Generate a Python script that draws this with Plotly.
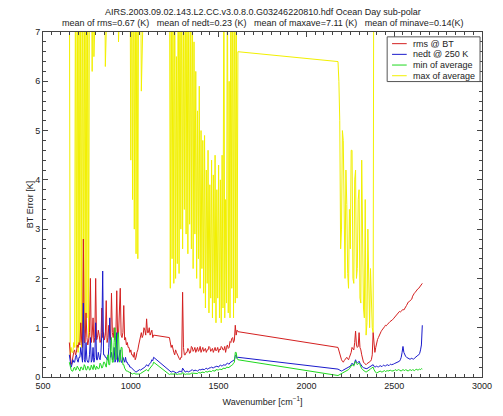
import plotly.graph_objects as go

# AIRS channel grid (cm^-1), three detector bands sampled every 5 cm^-1
band1_wn = list(range(650, 1131, 5))
band2_wn = list(range(1220, 1611, 5))
band3_wn = list(range(2180, 2661, 5))

# rms @ BT (K)
rms_b1 = [0.70, 0.45, 0.25, 0.30, 0.45, 0.50, 0.55, 0.45, 0.50, 0.65,
          0.60, 0.70, 0.65, 1.10, 0.75, 0.60, 2.80, 0.70, 0.70, 1.30,
          0.80, 0.65, 0.75, 0.90, 2.00, 0.70, 0.85, 1.20, 0.70, 0.80,
          2.00, 0.75, 0.80, 0.95, 0.85, 0.70, 0.75, 1.40, 0.80, 0.90,
          0.75, 0.85, 1.55, 0.70, 0.80, 1.05, 0.85, 0.75, 1.70, 0.90,
          0.80, 1.00, 0.75, 0.85, 1.75, 0.80, 0.85, 1.20, 1.80, 0.85,
          0.80, 0.90, 1.45, 0.75, 0.80, 0.65, 0.70, 0.60, 0.60, 0.50,
          0.55, 0.45, 0.45, 0.40, 0.50, 0.35, 0.40, 0.50, 0.55, 0.65,
          0.75, 0.85, 0.90, 0.80, 0.85, 1.00, 0.95, 0.85, 1.18, 0.90,
          0.90, 1.00, 0.85, 0.90, 0.95, 0.80, 0.85]
rms_b2 = [0.80, 0.70, 0.60, 0.65, 0.55, 0.50, 0.45, 0.55, 0.50, 0.45,
          0.40, 0.38, 0.35, 0.40, 0.40, 1.72, 0.60, 0.45, 0.45, 0.50,
          0.50, 0.58, 0.55, 0.48, 0.50, 0.62, 0.60, 0.52, 0.55, 0.60,
          0.50, 0.55, 0.60, 0.52, 0.55, 0.62, 0.50, 0.55, 0.60, 0.52,
          0.55, 0.58, 0.50, 0.55, 0.55, 0.62, 0.60, 0.52, 0.55, 0.58,
          0.50, 0.56, 0.60, 0.53, 0.55, 0.60, 0.50, 0.57, 0.55, 0.62,
          0.60, 0.55, 0.55, 0.62, 0.50, 0.60, 0.65, 0.58, 0.60, 0.72,
          0.70, 0.78, 0.80, 0.70, 0.75, 1.05, 0.85, 0.95, 0.92]
rms_b3 = [0.60, 0.52, 0.45, 0.40, 0.35, 0.32, 0.30, 0.33, 0.35, 0.38,
          0.40, 0.37, 0.35, 0.40, 0.45, 0.50, 0.60, 0.58, 0.55, 0.70,
          0.93, 0.65, 0.60, 0.62, 0.90, 0.60, 0.55, 0.45, 0.35, 0.30,
          0.28, 0.26, 0.25, 0.27, 0.28, 0.30, 0.30, 0.32, 0.35, 0.45,
          0.90, 0.60, 0.50, 0.60, 0.72, 0.76, 0.80, 0.85, 0.88, 0.92,
          0.95, 0.97, 0.98, 1.02, 1.05, 1.04, 1.06, 1.09, 1.10, 1.12,
          1.13, 1.15, 1.16, 1.18, 1.20, 1.24, 1.26, 1.27, 1.30, 1.32,
          1.33, 1.32, 1.34, 1.36, 1.37, 1.36, 1.38, 1.42, 1.45, 1.49,
          1.52, 1.53, 1.55, 1.57, 1.58, 1.64, 1.68, 1.70, 1.72, 1.75,
          1.78, 1.79, 1.80, 1.83, 1.86, 1.88, 1.90]

# nedt @ 250 K (K)
nedt_b1 = [0.45, 0.30, 0.20, 0.25, 0.35, 0.30, 0.30, 0.40, 0.45, 0.35,
           0.30, 0.40, 0.40, 0.60, 0.35, 0.30, 1.50, 0.35, 0.30, 0.70,
           0.35, 0.30, 0.30, 0.45, 0.80, 0.30, 0.35, 0.60, 0.30, 0.40,
           1.10, 0.35, 0.35, 0.50, 0.40, 0.35, 0.50, 0.90, 2.15, 0.45,
           0.45, 0.40, 0.40, 0.35, 0.35, 0.60, 1.20, 0.40, 0.50, 0.35,
           0.40, 0.60, 0.30, 0.35, 0.90, 0.30, 0.35, 0.45, 0.55, 0.30,
           0.30, 0.40, 0.35, 0.30, 0.40, 0.30, 0.30, 0.25, 0.25, 0.20,
           0.20, 0.18, 0.15, 0.14, 0.12, 0.11, 0.10, 0.11, 0.12, 0.13,
           0.15, 0.14, 0.15, 0.17, 0.18, 0.19, 0.20, 0.22, 0.25, 0.23,
           0.22, 0.26, 0.28, 0.30, 0.35, 0.33, 0.40]
nedt_b2 = [0.12, 0.11, 0.10, 0.11, 0.12, 0.11, 0.10, 0.09, 0.08, 0.09,
           0.10, 0.11, 0.12, 0.11, 0.10, 0.18, 0.15, 0.11, 0.10, 0.11,
           0.12, 0.11, 0.10, 0.12, 0.12, 0.14, 0.15, 0.13, 0.12, 0.14,
           0.14, 0.13, 0.12, 0.14, 0.15, 0.15, 0.14, 0.16, 0.16, 0.15,
           0.15, 0.17, 0.18, 0.16, 0.16, 0.18, 0.18, 0.19, 0.20, 0.19,
           0.18, 0.20, 0.20, 0.21, 0.22, 0.21, 0.20, 0.23, 0.24, 0.23,
           0.22, 0.24, 0.25, 0.24, 0.24, 0.27, 0.28, 0.27, 0.26, 0.29,
           0.30, 0.31, 0.32, 0.34, 0.35, 0.42, 0.45, 0.38, 0.40]
nedt_b3 = [0.16, 0.15, 0.14, 0.13, 0.12, 0.13, 0.14, 0.14, 0.15, 0.17,
           0.18, 0.19, 0.20, 0.21, 0.22, 0.25, 0.28, 0.26, 0.25, 0.30,
           0.35, 0.30, 0.28, 0.30, 0.32, 0.28, 0.25, 0.22, 0.20, 0.19,
           0.18, 0.17, 0.17, 0.17, 0.18, 0.19, 0.20, 0.21, 0.22, 0.24,
           0.25, 0.22, 0.20, 0.21, 0.22, 0.21, 0.20, 0.22, 0.23, 0.22,
           0.21, 0.23, 0.24, 0.23, 0.22, 0.24, 0.25, 0.24, 0.23, 0.25,
           0.26, 0.25, 0.25, 0.26, 0.27, 0.28, 0.28, 0.29, 0.30, 0.31,
           0.32, 0.35, 0.40, 0.50, 0.62, 0.50, 0.45, 0.42, 0.40, 0.39,
           0.38, 0.37, 0.36, 0.37, 0.38, 0.37, 0.36, 0.38, 0.40, 0.41,
           0.42, 0.44, 0.45, 0.48, 0.55, 0.65, 1.05]

# min of average (K)
minave_b1 = [0.30, 0.20, 0.15, 0.12, 0.12, 0.18, 0.20, 0.14, 0.15, 0.22,
             0.18, 0.13, 0.12, 0.20, 0.20, 0.15, 0.15, 0.25, 0.22, 0.14,
             0.15, 0.22, 0.20, 0.14, 0.15, 0.24, 0.18, 0.15, 0.25, 0.18,
             0.15, 0.22, 0.20, 0.16, 0.18, 0.28, 0.25, 0.18, 0.20, 0.30,
             0.30, 0.22, 0.20, 0.35, 0.45, 0.25, 0.25, 0.55, 0.80, 0.30,
             0.30, 0.70, 1.00, 0.35, 0.40, 0.85, 0.90, 0.30, 0.35, 0.60,
             0.60, 0.25, 0.25, 0.18, 0.15, 0.12, 0.12, 0.10, 0.10, 0.09,
             0.08, 0.07, 0.06, 0.07, 0.08, 0.06, 0.06, 0.05, 0.05, 0.06,
             0.06, 0.07, 0.08, 0.09, 0.10, 0.11, 0.12, 0.14, 0.15, 0.13,
             0.12, 0.16, 0.18, 0.20, 0.22, 0.25, 0.30]
minave_b2 = [0.05, 0.06, 0.06, 0.05, 0.05, 0.06, 0.07, 0.06, 0.05, 0.05,
             0.06, 0.06, 0.05, 0.06, 0.06, 0.09, 0.08, 0.06, 0.05, 0.06,
             0.06, 0.07, 0.07, 0.06, 0.06, 0.08, 0.08, 0.07, 0.07, 0.08,
             0.08, 0.07, 0.07, 0.09, 0.09, 0.08, 0.08, 0.10, 0.10, 0.09,
             0.09, 0.11, 0.11, 0.10, 0.10, 0.12, 0.12, 0.11, 0.11, 0.13,
             0.13, 0.12, 0.12, 0.15, 0.15, 0.14, 0.14, 0.16, 0.16, 0.15,
             0.15, 0.18, 0.18, 0.17, 0.17, 0.20, 0.20, 0.19, 0.19, 0.22,
             0.22, 0.24, 0.25, 0.28, 0.30, 0.50, 0.50, 0.38, 0.35]
minave_b3 = [0.03, 0.04, 0.05, 0.05, 0.06, 0.07, 0.08, 0.09, 0.10, 0.11,
             0.12, 0.13, 0.15, 0.17, 0.20, 0.22, 0.25, 0.24, 0.22, 0.28,
             0.32, 0.27, 0.25, 0.27, 0.28, 0.25, 0.20, 0.17, 0.15, 0.13,
             0.12, 0.11, 0.10, 0.11, 0.12, 0.13, 0.15, 0.16, 0.18, 0.19,
             0.20, 0.15, 0.10, 0.09, 0.08, 0.09, 0.10, 0.11, 0.12, 0.11,
             0.10, 0.11, 0.12, 0.13, 0.11, 0.12, 0.13, 0.12, 0.13, 0.14,
             0.14, 0.12, 0.12, 0.13, 0.13, 0.15, 0.14, 0.13, 0.14, 0.15,
             0.14, 0.13, 0.12, 0.14, 0.15, 0.14, 0.13, 0.15, 0.14, 0.13,
             0.12, 0.14, 0.15, 0.14, 0.13, 0.15, 0.14, 0.13, 0.14, 0.16,
             0.15, 0.14, 0.15, 0.16, 0.15, 0.17, 0.16]

# max of average (K); many channels run off the top of the 0-7 K window
maxave_b1 = [9.0, 0.4, 0.6, 0.5, 0.5, 0.7, 0.6, 9.0, 0.6, 9.0,
             0.5, 9.0, 0.7, 9.0, 0.6, 9.0, 1.0, 9.0, 0.9, 9.0,
             1.2, 9.0, 0.8, 9.0, 9.0, 9.0, 6.2, 9.0, 6.5, 9.0,
             9.0, 9.0, 9.0, 9.0, 9.0, 9.0, 9.0, 9.0, 9.0, 9.0,
             9.0, 6.3, 9.0, 9.0, 9.0, 9.0, 9.0, 9.0, 9.0, 9.0,
             9.0, 9.0, 9.0, 9.0, 9.0, 9.0, 6.8, 9.0, 9.0, 9.0,
             9.0, 9.0, 9.0, 9.0, 9.0, 9.0, 9.0, 9.0, 9.0, 9.0,
             4.4, 9.0, 3.6, 9.0, 3.0, 9.0, 2.5, 9.0, 2.4, 9.0,
             9.0, 9.0, 5.8, 9.0, 9.0, 9.0, 9.0, 9.0, 9.0, 9.0,
             9.0, 9.0, 9.0, 9.0, 9.0, 9.0, 9.0]
maxave_b2 = [9.0, 1.8, 9.0, 2.4, 8.0, 1.9, 9.0, 2.0, 6.5, 2.3,
             9.0, 2.1, 9.0, 3.0, 9.0, 2.6, 7.2, 3.4, 9.0, 2.9,
             9.0, 2.5, 8.0, 3.1, 7.5, 2.6, 9.0, 2.2, 6.8, 2.9,
             6.2, 2.0, 5.4, 2.4, 5.9, 1.8, 5.0, 2.2, 4.8, 1.7,
             4.9, 1.4, 4.2, 1.9, 4.6, 1.3, 3.9, 1.6, 4.4, 1.2,
             4.1, 1.5, 4.5, 1.1, 3.8, 1.6, 4.3, 1.2, 4.0, 1.1,
             4.5, 1.4, 9.0, 1.2, 3.6, 1.5, 9.0, 1.3, 6.0, 1.2,
             9.0, 1.8, 9.0, 1.2, 9.0, 1.5, 9.0, 1.6, 6.6]
maxave_b3 = [6.4, 6.0, 5.2, 2.6, 3.0, 5.0, 4.8, 2.4, 2.0, 4.2,
             3.5, 2.1, 1.8, 3.4, 2.6, 4.6, 4.6, 2.0, 1.9, 4.0,
             4.2, 2.0, 2.2, 3.6, 3.8, 1.6, 1.5, 4.4, 2.8, 1.4,
             1.2, 3.6, 0.85, 1.1, 3.0, 1.3, 1.0, 2.2, 1.4, 1.0,
             0.9, 12.0, 12.0, 12.0, 12.0, 12.0, 12.0, 12.0, 12.0, 12.0,
             12.0, 12.0, 12.0, 12.0, 12.0, 12.0, 12.0, 12.0, 12.0, 12.0,
             12.0, 12.0, 12.0, 12.0, 12.0, 12.0, 12.0, 12.0, 12.0, 12.0,
             12.0, 12.0, 12.0, 12.0, 12.0, 12.0, 12.0, 12.0, 12.0, 12.0,
             12.0, 12.0, 12.0, 12.0, 12.0, 12.0, 12.0, 12.0, 12.0, 12.0,
             12.0, 12.0, 12.0, 12.0, 12.0, 12.0, 12.0]

series_names = ["rms @ BT", "nedt @ 250 K", "min of average", "max of average"]
series_colors = ["#d42020", "#1a1acc", "#1ed81e", "#f2f000"]

title_line1 = "AIRS.2003.09.02.143.L2.CC.v3.0.8.0.G03246220810.hdf Ocean Day sub-polar"
title_line2 = ("mean of rms=0.67 (K)   mean of nedt=0.23 (K)   "
               "mean of maxave=7.11 (K)   mean of minave=0.14(K)")

wn = band1_wn + band2_wn + band3_wn
values = {
    "rms @ BT": rms_b1 + rms_b2 + rms_b3,
    "nedt @ 250 K": nedt_b1 + nedt_b2 + nedt_b3,
    "min of average": minave_b1 + minave_b2 + minave_b3,
    "max of average": maxave_b1 + maxave_b2 + maxave_b3,
}
colors = dict(zip(series_names, series_colors))

fig = go.Figure()
# max of average sits behind, then rms, nedt and min of average on top
for name in ["max of average", "rms @ BT", "nedt @ 250 K", "min of average"]:
    fig.add_trace(go.Scatter(x=wn, y=values[name], mode="lines", name=name,
                             line=dict(color=colors[name], width=1),
                             showlegend=False))

FONT = "Liberation Sans, Arial, sans-serif"
W, H = 503, 416
L, R, T, B = 43, 11, 32, 29
pw, ph = W - L - R, H - T - B


def px2paper(px, py):
    return (px - L) / pw, (H - B - py) / ph


shapes = []
annotations = []

# legend box
x0, y0 = px2paper(395, 37)
x1, y1 = px2paper(490, 83)
shapes.append(dict(type="rect", xref="paper", yref="paper", x0=x0, x1=x1,
                   y0=y1, y1=y0, line=dict(color="#555555", width=1),
                   fillcolor="white", layer="above"))
for i, name in enumerate(series_names):
    py = 44 + i * 11
    lx0, ly = px2paper(400, py)
    lx1, _ = px2paper(415, py)
    shapes.append(dict(type="line", xref="paper", yref="paper", x0=lx0, x1=lx1,
                       y0=ly, y1=ly, line=dict(color=series_colors[i], width=1),
                       layer="above"))
    tx, _ = px2paper(419, py)
    annotations.append(dict(text=name, xref="paper", yref="paper", x=tx, y=ly,
                            xanchor="left", yanchor="middle", showarrow=False,
                            font=dict(family=FONT, size=9, color="#222222")))

# two-line title
for text, py in [(title_line1, 11), (title_line2, 23)]:
    _, ty = px2paper(0, py)
    annotations.append(dict(text=text, xref="paper", yref="paper", x=0.5, y=ty,
                            xanchor="center", yanchor="middle", showarrow=False,
                            font=dict(family=FONT, size=9, color="#222222")))

axis_common = dict(
    showgrid=False, zeroline=False, showline=True, linecolor="#444444",
    linewidth=1, mirror="allticks", ticks="inside", ticklen=5, tickwidth=1,
    tickcolor="#444444", tickfont=dict(family=FONT, size=9, color="#222222"),
)

fig.update_layout(
    width=W, height=H,
    margin=dict(l=L, r=R, t=T, b=B, pad=0),
    paper_bgcolor="white", plot_bgcolor="white",
    font=dict(family=FONT, size=9, color="#222222"),
    xaxis=dict(range=[500, 3000], dtick=500, tick0=500,
               title=dict(text="Wavenumber [cm<sup>\u22121</sup>]",
                          font=dict(family=FONT, size=9), standoff=8),
               minor=dict(dtick=50, ticks="inside", ticklen=3,
                          tickcolor="#444444"),
               **axis_common),
    yaxis=dict(range=[0, 7], dtick=1, tick0=0,
               title=dict(text="BT Error [K]",
                          font=dict(family=FONT, size=9), standoff=0),
               minor=dict(dtick=0.2, ticks="inside", ticklen=3,
                          tickcolor="#444444"),
               **axis_common),
    shapes=shapes,
    annotations=annotations,
)

fig.write_html("out.html")
